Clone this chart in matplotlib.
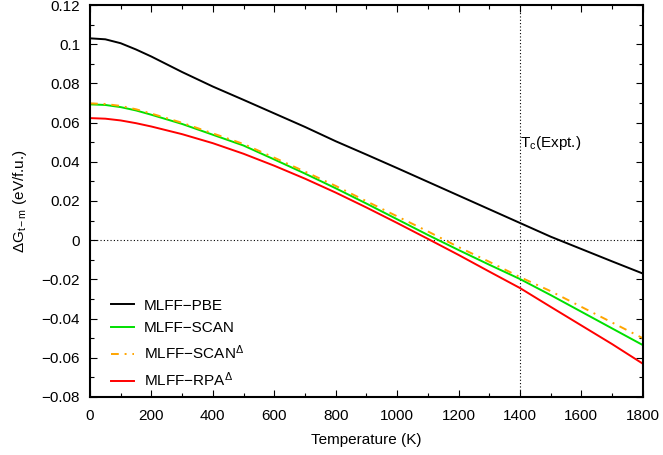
import numpy as np
import matplotlib.pyplot as plt
from matplotlib.ticker import MultipleLocator, FuncFormatter

plt.rcParams.update({'font.family': 'Liberation Sans', 'font.size': 11,
                     'mathtext.fontset': 'custom', 'mathtext.rm': 'Liberation Sans',
                     'mathtext.it': 'Liberation Sans'})

temperature = [0, 50, 100, 150, 200, 300, 400, 500, 600, 700, 800, 900,
               1000, 1100, 1200, 1300, 1400, 1500, 1600, 1700, 1800]
g_pbe = [0.1030, 0.1025, 0.1005, 0.0973, 0.0937, 0.0858, 0.0784, 0.0716, 0.0647, 0.0578, 0.0505,
         0.0437, 0.0368, 0.0298, 0.0228, 0.0158, 0.0088, 0.0018, -0.0045, -0.0108, -0.0170]
g_scan = [0.0693, 0.0690, 0.0679, 0.0662, 0.0640, 0.0593, 0.0538, 0.0483, 0.0412, 0.0340, 0.0265,
          0.0187, 0.0107, 0.0027, -0.0050, -0.0125, -0.0198, -0.0280, -0.0365, -0.0450, -0.0535]
g_scan_delta = [0.0698, 0.0695, 0.0685, 0.0668, 0.0646, 0.0599, 0.0545, 0.0491, 0.0421, 0.0350, 0.0277,
                0.0199, 0.0122, 0.0045, -0.0035, -0.0110, -0.0188, -0.0260, -0.0340, -0.0420, -0.0500]
g_rpa = [0.0623, 0.0620, 0.0611, 0.0597, 0.0580, 0.0541, 0.0495, 0.0441, 0.0380, 0.0314, 0.0243,
         0.0167, 0.0088, 0.0007, -0.0075, -0.0160, -0.0244, -0.0340, -0.0435, -0.0530, -0.0630]
t_c = 1400

fig = plt.figure(figsize=(6.63, 4.55), dpi=100)
ax = fig.add_axes([0.1357, 0.1275, 0.8338, 0.8615])

ax.axhline(0, color='black', lw=0.8, ls=(0, (1, 2)))
ax.axvline(t_c, color='black', lw=0.8, ls=(0, (1, 2)))

ax.plot(temperature, g_pbe, color='black', lw=1.4, label='MLFF\u2212PBE')
ax.plot(temperature, g_scan, color='#00E000', lw=1.4, label='MLFF\u2212SCAN')
ax.plot(temperature, g_scan_delta, color='#FFA500', lw=1.4, ls=(0, (4, 3, 1, 3)),
        label='MLFF\u2212SCAN$^{\\Delta}$')
ax.plot(temperature, g_rpa, color='#FF0000', lw=1.4, label='MLFF\u2212RPA$^{\\Delta}$')

ax.text(t_c, 0.0495, 'T$_{\\mathrm{c}}$(Expt.)', ha='left', va='center')

ax.set_xlim(0, 1800)
ax.set_ylim(-0.08, 0.12)
ax.xaxis.set_major_locator(MultipleLocator(200))
ax.xaxis.set_minor_locator(MultipleLocator(100))
ax.yaxis.set_major_locator(MultipleLocator(0.02))
ax.yaxis.set_minor_locator(MultipleLocator(0.01))
ax.yaxis.set_major_formatter(FuncFormatter(lambda v, p: ('%g' % round(v, 4)).replace('-', '\u2212')))
ax.tick_params(which='both', direction='in', top=True, right=True, width=0.8)
ax.tick_params(which='major', length=5, pad=7)
ax.tick_params(which='minor', length=3)
ax.tick_params(axis='x', which='major', pad=9)
for s in ax.spines.values():
    s.set_linewidth(1.5)

ax.set_xlabel('Temperature (K)', labelpad=7)
ax.set_ylabel('$\\Delta$G$_{\\mathrm{t\u2212m}}$ (eV/f.u.)', labelpad=9)

ax.legend(loc='lower left', frameon=False, handlelength=1.5, handletextpad=0.65,
          labelspacing=0.55, borderaxespad=0.0, bbox_to_anchor=(0.027, 0.005))

fig.savefig('out.png', dpi=100)
